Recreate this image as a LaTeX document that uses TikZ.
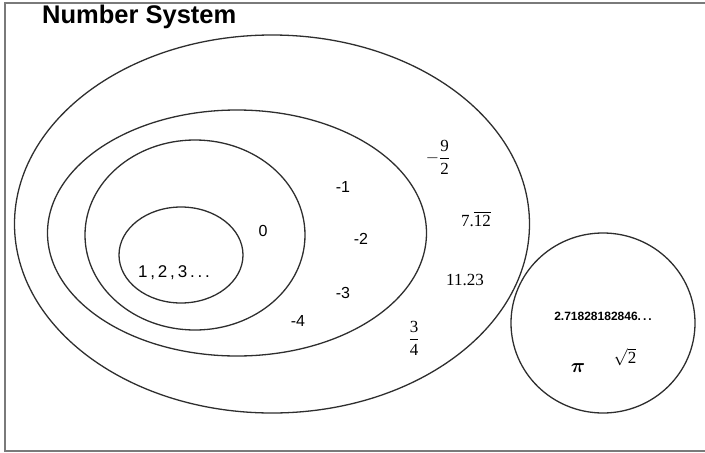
\RequirePackage{fix-cm}
\documentclass[tikz,border=0pt]{standalone}
\usepackage{amsmath}
\usepackage{fontspec}
\setmainfont{Liberation Serif}
\setsansfont{Liberation Sans}
\usepackage{tikz}
\usetikzlibrary{shapes.geometric}
\definecolor{cline}{HTML}{2E2E2E}
\definecolor{cframe}{HTML}{7A7A7A}
\tikzset{
  set/.style={draw=cline, line width=1.3pt, ellipse, inner sep=0pt, outer sep=0pt},
  num/.style={font=\sffamily\fontsize{16}{18}\selectfont, inner sep=0pt},
  rnum/.style={font=\rmfamily\fontsize{17}{20}\selectfont, inner sep=0pt},
  tiny/.style={font=\sffamily\bfseries\fontsize{12}{14}\selectfont, inner sep=0pt},
  frame/.style={draw=cframe, line width=1.3pt},
}

\begin{document}
\begin{tikzpicture}[x=1pt,y=-1pt]
\useasboundingbox (0,0) rectangle (705,453);
\draw[frame] (705,3) -- (5,3) -- (5,451) -- (705,451);
\node[anchor=base west, fill=white, inner sep=1pt, font=\sffamily\bfseries\fontsize{25.5}{28}\selectfont] (title) at (41,23) {Number System};
% sets
\node[set, minimum width=515, minimum height=378] (real) at (272,224) {};
\node[set, minimum width=379, minimum height=246] (integer) at (237,233) {};
\node[set, minimum width=220, minimum height=190] (whole) at (195,235) {};
\node[set, minimum width=124, minimum height=96] (natural) at (181,255) {};
\node[set, minimum width=184, minimum height=180] (irrational) at (603,323) {};
% members
\node[num, font=\sffamily\fontsize{17}{19}\selectfont] (nat) at (174,273) {1\,,\,2\,,\,3\,.\,.\,.};
\foreach \n/\x/\y/\t in {zero/263/231/0, m1/343/187/-1, m2/361/239/-2, m3/343/293/-3, m4/298/321/-4}{
  \node[num] (\n) at (\x,\y) {\t};
}
\node[rnum] (ninehalf) at (438,157) {$-\dfrac{\text{9}}{\text{2}}$};
\node[rnum] (rep) at (476,219) {7.$\overline{\mbox{12}}$};
\node[rnum] (dec) at (465,280) {11.23};
\node[rnum] (threequart) at (414,338) {$\dfrac{\text{3}}{\text{4}}$};
\node[tiny] (euler) at (603,316) {2.71828182846.\,.\,.};
\node[rnum, font=\rmfamily\fontsize{20}{22}\selectfont] (pi) at (578,368) {$\boldsymbol{\pi}$};
\node[rnum] (sqrt) at (625,357) {$\sqrt{\text{2}}$};
\end{tikzpicture}
\end{document}
